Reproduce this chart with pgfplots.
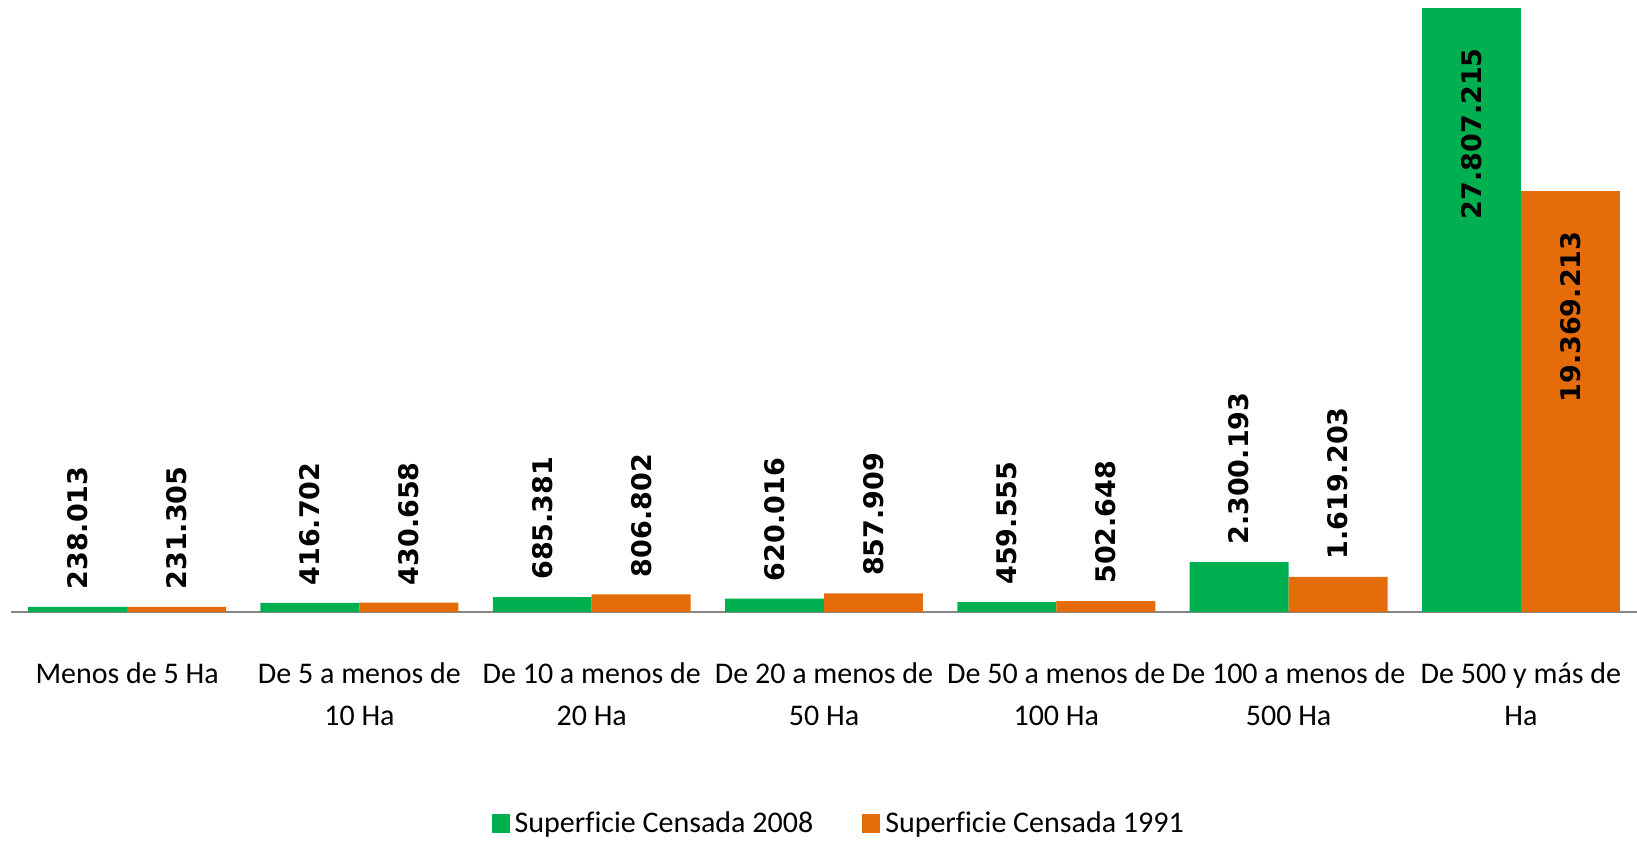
\documentclass[border=0pt]{standalone}
\usepackage{fontspec}
\setmainfont{Carlito}[Ligatures=NoCommon]
\newfontfamily\valfont{DejaVu Sans}
\usepackage{pgfplots}
\pgfplotsset{compat=1.18}
\definecolor{cgreen}{RGB}{0,176,80}
\definecolor{corange}{RGB}{228,108,10}
\definecolor{caxis}{RGB}{134,134,134}
\begin{document}
\begin{tikzpicture}
\begin{axis}[
  name=ax,
  scale only axis,
  width=813pt, height=306pt,
  xmin=-0.5, xmax=6.5,
  ymin=0, ymax=28175000,
  axis x line*=bottom,
  axis y line=none,
  x axis line style={draw=caxis, line width=1pt, -},
  xtick={0,...,6},
  major tick length=0pt,
  ytick=\empty,
  xticklabels={{Menos de 5 Ha},{De 5 a menos de\\10 Ha},{De 10 a menos de\\20 Ha},{De 20 a menos de\\50 Ha},{De 50 a menos de\\100 Ha},{De 100 a menos de\\500 Ha},{De 500 y más de\\Ha}},
  xticklabel style={anchor=north, inner sep=0pt, yshift=-25pt, align=center, font=\fontsize{15}{21}\selectfont},
  legend columns=2,
  legend style={at={(0.51,-0.345)}, anchor=center, draw=none, fill=none,
    font=\fontsize{15}{18}\selectfont,
    /tikz/every even column/.append style={column sep=22pt},
    nodes={inner sep=2.5pt}},
  legend image code/.code={\fill[#1] (0pt,-4.75pt) rectangle (9pt,4.75pt);},
  point meta=explicit symbolic,
  clip=false,
]
% Superficie Censada 2008 (labels above bars)
\addplot[ybar, bar width=0.426, bar shift=-0.213, fill=cgreen, draw=none,
  nodes near coords,
  nodes near coords style={xshift=-24.74pt, rotate=90, anchor=west, inner ysep=0pt, inner xsep=8.5pt, text=black, font=\valfont\bfseries\fontsize{13.5}{16}\selectfont}]
  coordinates {(0,238013) [238.013] (1,416702) [416.702] (2,685381) [685.381] (3,620016) [620.016] (4,459555) [459.555] (5,2300193) [2.300.193]};
\addlegendentry{Superficie Censada 2008}
% Superficie Censada 1991 (labels above bars)
\addplot[ybar, bar width=0.426, bar shift=0.213, fill=corange, draw=none,
  nodes near coords,
  nodes near coords style={xshift=24.74pt, rotate=90, anchor=west, inner ysep=0pt, inner xsep=8.5pt, text=black, font=\valfont\bfseries\fontsize{13.5}{16}\selectfont}]
  coordinates {(0,231305) [231.305] (1,430658) [430.658] (2,806802) [806.802] (3,857909) [857.909] (4,502648) [502.648] (5,1619203) [1.619.203]};
\addlegendentry{Superficie Censada 1991}
% largest class (labels inside bars)
\addplot[ybar, bar width=0.426, bar shift=-0.213, fill=cgreen, draw=none, forget plot,
  nodes near coords,
  nodes near coords style={xshift=-24.74pt, rotate=90, anchor=east, inner ysep=0pt, inner xsep=20pt, text=black, font=\valfont\bfseries\fontsize{13.5}{16}\selectfont}]
  coordinates {(6,27807215) [27.807.215]};
\addplot[ybar, bar width=0.426, bar shift=0.213, fill=corange, draw=none, forget plot,
  nodes near coords,
  nodes near coords style={xshift=24.74pt, rotate=90, anchor=east, inner ysep=0pt, inner xsep=20pt, text=black, font=\valfont\bfseries\fontsize{13.5}{16}\selectfont}]
  coordinates {(6,19369213) [19.369.213]};
\end{axis}
\pgfresetboundingbox
\path[use as bounding box] (ax.south west) ++(-5.5pt,-117pt) rectangle (ax.north east);
\end{tikzpicture}
\end{document}
